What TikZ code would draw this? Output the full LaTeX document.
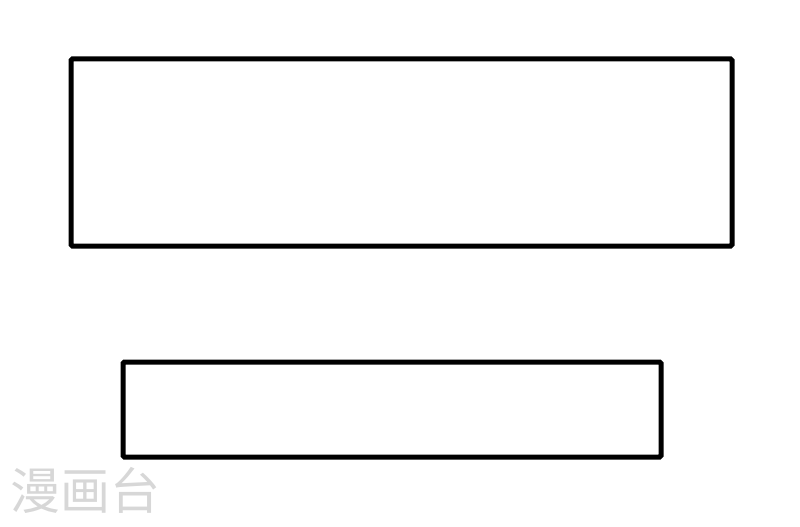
\documentclass[tikz,border=0pt]{standalone}
\usepackage{fontspec}
\newfontfamily\cjk{Noto Sans CJK SC}
\definecolor{markgray}{RGB}{215,215,215}
\begin{document}
\begin{tikzpicture}[x=1pt, y=-1pt]
        \useasboundingbox (0, 0) rectangle (800, 527);
        \draw [line width=5pt, rounded corners=1.5pt] (71, 59) rectangle (732, 246);
        \draw [line width=5pt, rounded corners=1.5pt] (123, 362) rectangle (661, 457);
        \node [anchor=west, inner sep=0pt, text=markgray, font=\cjk\fontsize{50}{50}\selectfont] (mark) at (10, 490) {漫画台};
    \end{tikzpicture}
\end{document}
